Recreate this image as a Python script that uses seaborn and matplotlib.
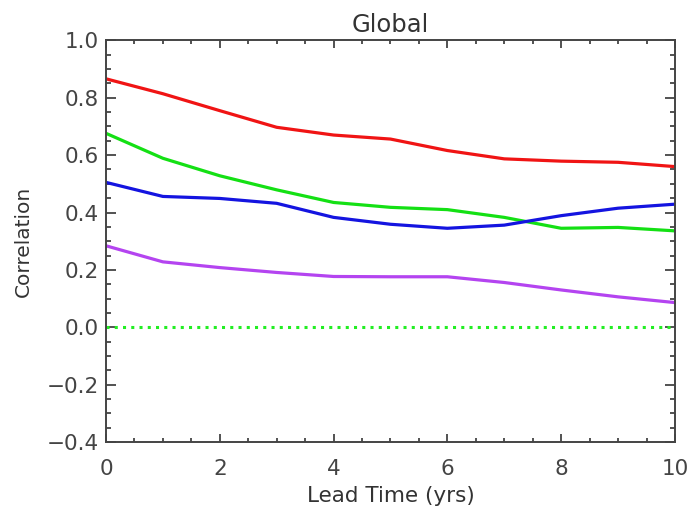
import numpy as np
import pandas as pd
import matplotlib
matplotlib.use("Agg")
import matplotlib.pyplot as plt
import seaborn as sns
from matplotlib.ticker import MultipleLocator

# Lead times (years)
lead_time = [0, 1, 2, 3, 4, 5, 6, 7, 8, 9, 10]

# Correlation skill for each series
corr_red = [0.866, 0.814, 0.755, 0.697, 0.670, 0.656, 0.616, 0.587, 0.579, 0.575, 0.560]
corr_green = [0.676, 0.589, 0.528, 0.479, 0.435, 0.418, 0.410, 0.383, 0.345, 0.348, 0.336]
corr_blue = [0.505, 0.456, 0.449, 0.432, 0.383, 0.359, 0.345, 0.356, 0.389, 0.415, 0.429]
corr_purple = [0.284, 0.228, 0.208, 0.191, 0.177, 0.176, 0.176, 0.156, 0.130, 0.106, 0.086]

series_names = ["red", "green", "blue", "purple"]
series_values = [corr_red, corr_green, corr_blue, corr_purple]
series_colors = ["#f01414", "#14e014", "#1414e0", "#b444f0"]

x_ticks = [0, 2, 4, 6, 8, 10]
y_ticks = [-0.4, -0.2, 0.0, 0.2, 0.4, 0.6, 0.8, 1.0]

frames = []
for name, vals in zip(series_names, series_values):
    frames.append(pd.DataFrame({"lead": lead_time, "corr": vals, "series": name}))
df = pd.concat(frames, ignore_index=True)

sns.set_theme(style="ticks")
plt.rcParams["font.family"] = ["DejaVu Sans"]
text_color = "#333333"
plt.rcParams["text.color"] = text_color
plt.rcParams["axes.labelcolor"] = text_color
plt.rcParams["xtick.color"] = "#444444"
plt.rcParams["ytick.color"] = "#444444"

fig = plt.figure(figsize=(6.9, 5.11), dpi=100)
ax = fig.add_axes([0.1536, 0.135, 0.8246, 0.786])

sns.lineplot(data=df, x="lead", y="corr", hue="series", hue_order=series_names,
             palette=dict(zip(series_names, series_colors)), linewidth=2.3,
             legend=False, ax=ax, sort=False)

# zero reference line
sns.lineplot(x=[lead_time[0], lead_time[-1]], y=[0.0, 0.0], color="#22ee22",
             linewidth=2.2, linestyle=(0, (1, 1.7)), ax=ax)

ax.set_xlim(0, 10)
ax.set_ylim(-0.4, 1.0)
ax.set_xticks(x_ticks)
ax.set_xticklabels([str(t) for t in x_ticks])
ax.set_yticks(y_ticks)
ax.set_yticklabels([("\u2212" if t < 0 else "") + f"{abs(t):.1f}" for t in y_ticks])
ax.xaxis.set_minor_locator(MultipleLocator(0.5))
ax.yaxis.set_minor_locator(MultipleLocator(0.05))

ax.tick_params(axis="both", which="both", direction="in", top=True, right=True,
               labelsize=15.5, width=1.3)
ax.tick_params(axis="y", which="major", length=7.5, pad=5)
ax.tick_params(axis="y", which="minor", length=3.8)
ax.tick_params(axis="x", which="major", length=6.0, pad=12)
ax.tick_params(axis="x", which="minor", length=3.0)

for sp in ax.spines.values():
    sp.set_color("#444444")
    sp.set_linewidth(1.4)

ax.set_xlabel("Lead Time (yrs)", fontsize=15.5, labelpad=5)
ax.set_ylabel("Correlation", fontsize=14.5, labelpad=10)
ax.set_title("Global", fontsize=17.5, pad=6, color=text_color)

fig.savefig("out.png", dpi=100)
